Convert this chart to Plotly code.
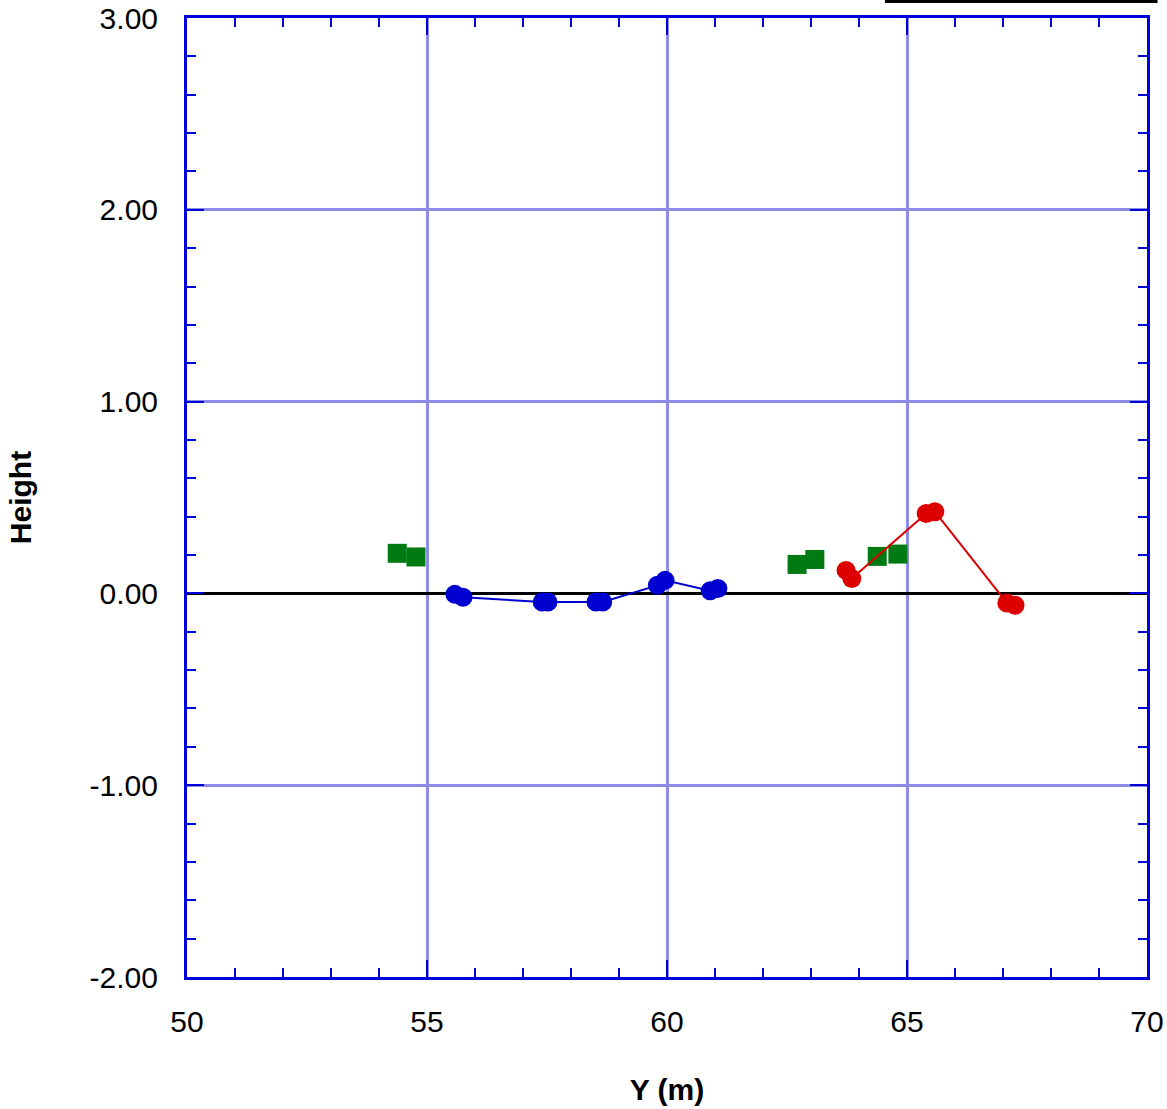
import plotly.graph_objects as go

# Data
green_x = [54.38, 54.77, 62.71, 63.08, 64.38, 64.81]
green_y = [0.209, 0.190, 0.151, 0.177, 0.193, 0.205]

blue_x = [55.58, 55.75, 57.40, 57.52, 58.52, 58.66, 59.80, 59.96, 60.90, 61.06]
blue_y = [-0.005, -0.020, -0.045, -0.045, -0.045, -0.045, 0.042, 0.068, 0.014, 0.026]

red_x = [63.73, 63.85, 65.40, 65.58, 67.08, 67.25]
red_y = [0.120, 0.078, 0.417, 0.426, -0.050, -0.062]

x_ticks = [50, 55, 60, 65, 70]
y_ticks = [3, 2, 1, 0, -1, -2]
y_tick_text = ["3.00", "2.00", "1.00", "0.00", "-1.00", "-2.00"]

AXIS_BLUE = "#0000d8"
GRID = "#8c8ce6"

fig = go.Figure()
fig.add_trace(go.Scatter(x=green_x, y=green_y, mode="markers",
                         marker=dict(symbol="square", size=19, color="#007a12"),
                         showlegend=False))
fig.add_trace(go.Scatter(x=blue_x, y=blue_y, mode="lines+markers",
                         line=dict(color="#0000d0", width=2),
                         marker=dict(symbol="circle", size=19, color="#0000d0"),
                         showlegend=False))
fig.add_trace(go.Scatter(x=red_x, y=red_y, mode="lines+markers",
                         line=dict(color="#dd0000", width=2),
                         marker=dict(symbol="circle", size=19, color="#dd0000"),
                         showlegend=False))

font = dict(family="Liberation Sans, Arial, sans-serif", size=30, color="black")

fig.update_layout(
    width=1167, height=1109,
    margin=dict(l=187, r=20, t=18, b=132),
    paper_bgcolor="white", plot_bgcolor="white",
    font=font,
    xaxis=dict(range=[50, 70], tickvals=x_ticks, ticks="inside", ticklen=17,
               tickwidth=2, tickcolor=AXIS_BLUE, automargin=False,
               minor=dict(dtick=1, ticks="inside", ticklen=9, tickwidth=2,
                          tickcolor=AXIS_BLUE, showgrid=False),
               showline=True, linecolor=AXIS_BLUE, linewidth=3, mirror="allticks",
               showgrid=True, gridcolor=GRID, gridwidth=3,
               zeroline=False, ticklabelstandoff=16,
               title=dict(text="<b>Y (m)</b>", font=font, standoff=42)),
    yaxis=dict(range=[-2, 3], tickvals=y_ticks, ticktext=y_tick_text,
               ticks="inside", ticklen=17, tickwidth=2, tickcolor=AXIS_BLUE,
               automargin=False,
               minor=dict(dtick=0.2, ticks="inside", ticklen=9, tickwidth=2,
                          tickcolor=AXIS_BLUE, showgrid=False),
               showline=True, linecolor=AXIS_BLUE, linewidth=3, mirror="allticks",
               showgrid=True, gridcolor=GRID, gridwidth=3,
               zeroline=True, zerolinecolor="black", zerolinewidth=2.5,
               ticklabelstandoff=20,
               title=dict(text="<b>Height</b>", font=font, standoff=50)),
    shapes=[dict(type="rect", xref="paper", yref="paper",
                 x0=0.727, x1=1.011, y0=1.0156, y1=1.03,
                 fillcolor="black", line=dict(width=0), layer="above")],
)

fig.write_html("out.html", config={"displayModeBar": False},
               post_script="document.body.style.margin='0';")
